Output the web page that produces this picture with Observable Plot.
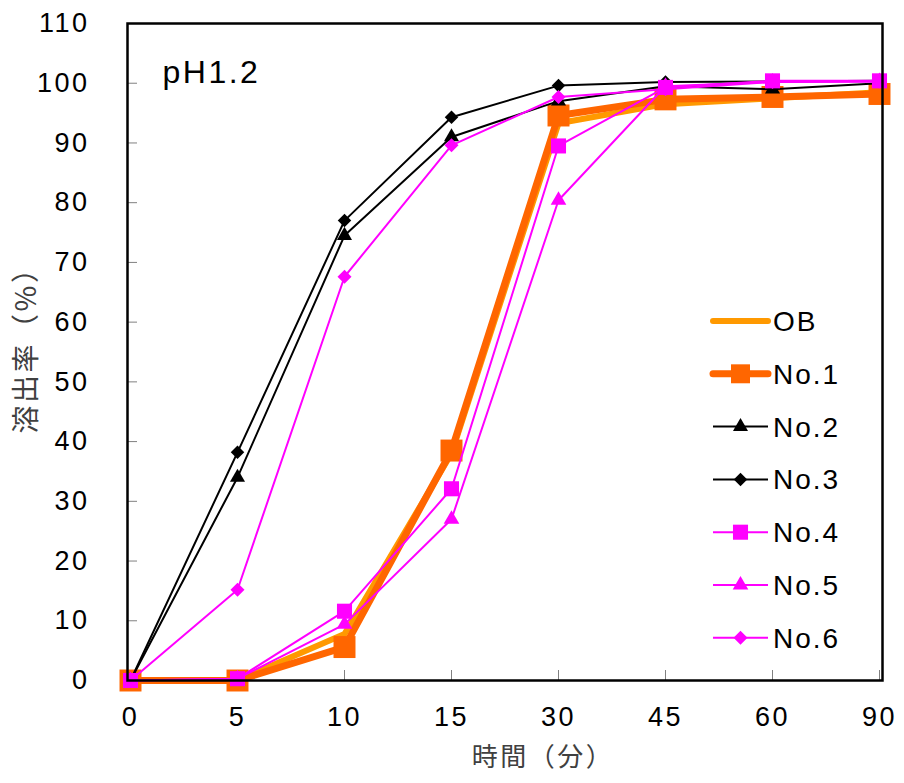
<!DOCTYPE html>
<html><head><meta charset="utf-8">
<script src="https://cdn.jsdelivr.net/npm/d3@7"></script>
<script src="https://cdn.jsdelivr.net/npm/@observablehq/plot@0.6"></script>
<style>body{margin:0;background:#fff} #chart svg{display:block}</style>
</head><body><div id="chart"></div>
<script>
// ---- data ----
const times = ["0","5","10","15","30","45","60","90"];
const yTicks = [0,10,20,30,40,50,60,70,80,90,100,110];
const seriesNames = ["OB","No.1","No.2","No.3","No.4","No.5","No.6"];
const OB  = [0, 0,   7.8, 38,   93.3, 96.5, 97.5, 98.5];
const No1 = [0, 0,   5.6, 38.5, 94.6, 97.3, 97.7, 98.2];
const No2 = [0, 34,  74.5, 91,  97,   99.5, 99,   100];
const No3 = [0, 38.2, 77, 94.3, 99.6, 100.2, 100.3, 100.4];
const No4 = [0, 0.3, 11.6, 32.1, 89.5, 99.3, 100.4, 100.4];
const No5 = [0, 0.3, 9.4, 27,   80.4, 99.5, 100.2, 100.3];
const No6 = [0, 15.2, 67.6, 89.6, 97.7, 99, 100.2, 100.3];
const seriesValues = [OB, No1, No2, No3, No4, No5, No6];
const panelTitle = "pH1.2";
const xLabel = "時間（分）";
const yLabel = "溶出率（%）";

// ---- styles ----
const styles = {
  "OB":   {color:"#FF9900", width:6, symbol:null,       r:0,    rot:0,  lr:0},
  "No.1": {color:"#FF6600", width:7, symbol:"square",   r:12.4, rot:0,  lr:10.7},
  "No.2": {color:"#000000", width:2, symbol:"triangle", r:5.6,  rot:0,  lr:5.6},
  "No.3": {color:"#000000", width:2, symbol:"square",   r:5.4,  rot:45, lr:5.4},
  "No.4": {color:"#FF00FF", width:2, symbol:"square",   r:8.5,  rot:0,  lr:8.5},
  "No.5": {color:"#FF00FF", width:2, symbol:"triangle", r:5.8,  rot:0,  lr:5.8},
  "No.6": {color:"#FF00FF", width:2, symbol:"square",   r:5.6,  rot:45, lr:5.6}
};

const rows = [];
seriesNames.forEach((s, i) => seriesValues[i].forEach((v, j) => rows.push({series:s, t:times[j], v})));

const FONT = "'Liberation Sans', Arial, sans-serif";
const CJK = "'Noto Sans CJK JP', 'Noto Sans CJK SC', sans-serif";

const marks = [
  Plot.axisY(yTicks, {tickSize:0, tickPadding:38, label:null, fontSize:27, fill:"#000"}),
  Plot.axisY(yTicks, {tickSize:10, dx:10, tickFormat:() => "", label:null, stroke:"#808080", strokeWidth:1}),
  Plot.axisX(times, {tickSize:0, tickPadding:26, label:null, fontSize:27, fill:"#000"}),
  Plot.axisX(times, {tickSize:10, dy:-10, tickFormat:() => "", label:null, stroke:"#808080", strokeWidth:1}),
  Plot.text([yLabel], {frameAnchor:"left", dx:-100, dy:-9, rotate:-90, textAnchor:"middle", fontSize:28, fontFamily:CJK, fill:"#404040", letterSpacing:"4px"}),
  Plot.text([xLabel], {frameAnchor:"bottom", dy:85, dx:38, textAnchor:"middle", fontSize:26, fontFamily:CJK, fill:"#404040", letterSpacing:"2px"}),
  Plot.text([panelTitle], {frameAnchor:"top-left", dx:35, dy:37, fontSize:32, textAnchor:"start", fill:"#000", letterSpacing:"2px"})
];
seriesNames.forEach(s => {
  const st = styles[s];
  const d = rows.filter(r => r.series === s);
  marks.push(Plot.line(d, {x:"t", y:"v", stroke:st.color, strokeWidth:st.width, strokeLinejoin:"round"}));
  if (st.symbol) marks.push(Plot.dot(d, {x:"t", y:"v", symbol:() => st.symbol, r:st.r, rotate:st.rot, fill:st.color, stroke:"none"}));
});
marks.push(Plot.frame({stroke:"#000", strokeWidth:2.5}));

const svgEl = Plot.plot({
  width:904, height:783,
  marginLeft:127, marginRight:22, marginTop:23, marginBottom:103,
  style:{fontFamily:FONT, fontSize:"27px", color:"#000", background:"#fff", letterSpacing:"2.5px"},
  x:{type:"point", domain:times, padding:0},
  y:{domain:[0,110]},
  marks
});
document.getElementById("chart").appendChild(svgEl);

// ---- legend (inside plot area, right side) ----
const svg = d3.select(svgEl);
const lg = svg.append("g").attr("class","legend");
const lx0 = 713, lx1 = 768, ly0 = 321, lstep = 52.8;
seriesNames.forEach((s, i) => {
  const st = styles[s];
  const y = ly0 + i * lstep;
  lg.append("line").attr("x1", lx0).attr("x2", lx1).attr("y1", y).attr("y2", y)
    .attr("stroke", st.color).attr("stroke-width", st.width)
    .attr("stroke-linecap", st.width > 4 ? "round" : "butt");
  if (st.symbol) {
    const sym = st.symbol === "triangle" ? d3.symbolTriangle : d3.symbolSquare;
    lg.append("path").attr("d", d3.symbol(sym, Math.PI * st.lr * st.lr)())
      .attr("transform", `translate(${(lx0 + lx1) / 2},${y}) rotate(${st.rot})`)
      .attr("fill", st.color);
  }
  lg.append("text").attr("x", 773).attr("y", y).attr("dy", "0.36em")
    .attr("text-anchor", "start")
    .attr("font-family", FONT).attr("font-size", 28).attr("letter-spacing", "2px")
    .attr("fill", "#000").text(s);
});
</script></body></html>
